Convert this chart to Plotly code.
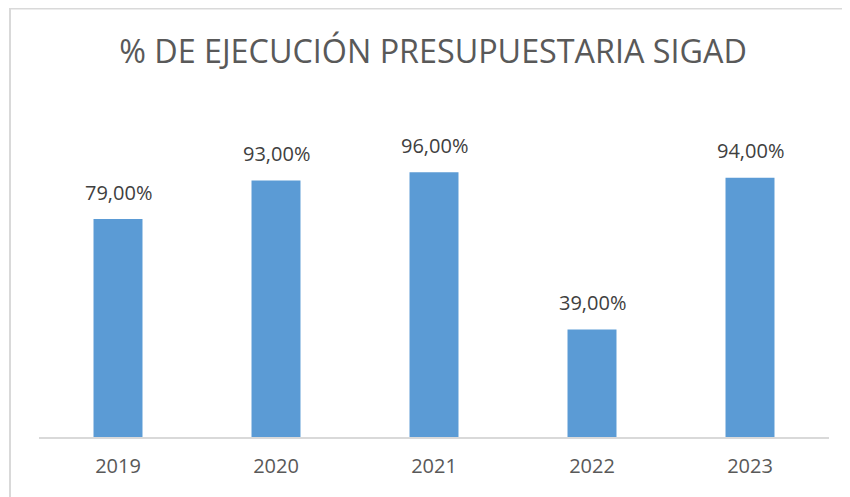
import plotly.graph_objects as go

years = ["2019", "2020", "2021", "2022", "2023"]
ejecucion = [79, 93, 96, 39, 94]
labels = [f"{v:.2f}%".replace(".", ",") for v in ejecucion]

# page body has an 8px margin, so the figure is made 8px smaller
W, H = 842, 489
L, R, T, B = 31, 21, 98, 60
pw, ph = W - L - R, H - T - B

fig = go.Figure(
    go.Bar(
        x=years,
        y=ejecucion,
        marker=dict(color="#5B9BD5", line=dict(width=0)),
        width=0.31,
        hoverinfo="x+y",
    )
)

# data labels above the bars (category axis -> use the serial index)
for i, (v, lab) in enumerate(zip(ejecucion, labels)):
    fig.add_annotation(
        x=i, y=v, text=lab, showarrow=False,
        yanchor="middle", yshift=27,
        font=dict(size=20, color="#404040"),
    )

# chart frame (light grey border, like the Excel chart area)
fig.add_shape(
    type="rect",
    xref="paper", yref="paper",
    x0=(2 - L) / pw, x1=(W + 10 - L) / pw,
    y0=-(B + 10) / ph, y1=(H - 0.5 - B) / ph,
    line=dict(color="#D9D9D9", width=2),
    layer="below",
)

fig.update_layout(
    width=W,
    height=H,
    margin=dict(l=L, r=R, t=T, b=B),
    plot_bgcolor="white",
    paper_bgcolor="white",
    font=dict(family="Open Sans, Liberation Sans, sans-serif"),
    title=dict(
        text="% DE EJECUCIÓN PRESUPUESTARIA SIGAD",
        x=425 / W, xanchor="center",
        y=1 - 44 / H, yanchor="middle",
        font=dict(size=32.3, color="#595959"),
    ),
    showlegend=False,
)
fig.update_xaxes(
    type="category",
    range=[-0.5, len(years) - 0.5],
    showline=True, linecolor="#D9D9D9", linewidth=2,
    ticks="", tickfont=dict(size=20, color="#595959"),
    ticklabelstandoff=10,
    showgrid=False,
)
fig.update_yaxes(visible=False, range=[0, 120], showgrid=False)

fig.write_html("out.html")
